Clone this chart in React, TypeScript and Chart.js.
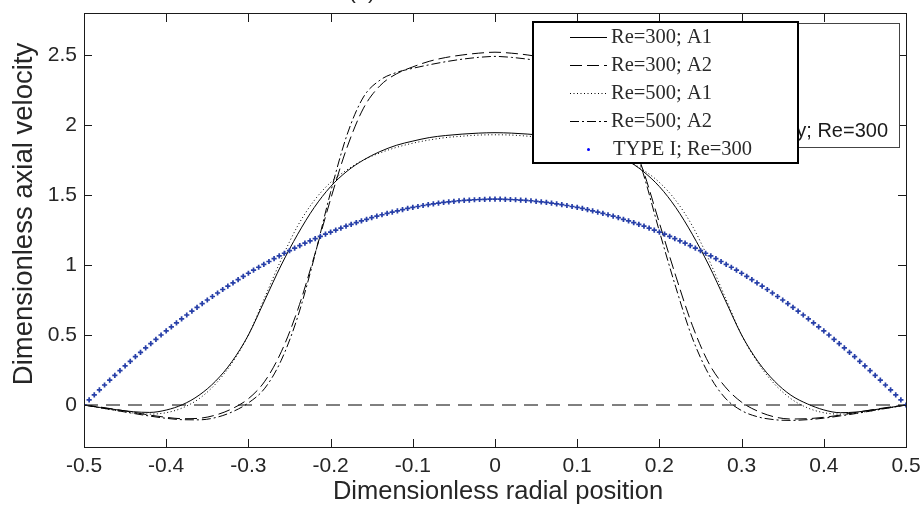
import React, { useEffect, useRef } from 'react';
import { Chart, registerables } from 'chart.js';

Chart.register(...registerables);

// ---------- data ----------
const curveX = [
  -0.5, -0.48, -0.46, -0.44, -0.42, -0.4, -0.38, -0.36, -0.34, -0.32, -0.3, -0.28, -0.26,
  -0.24, -0.22, -0.2, -0.18, -0.16, -0.14, -0.12, -0.1, -0.08, -0.06, -0.04, -0.02, 0,
  0.02, 0.04, 0.06, 0.08, 0.1, 0.12, 0.14, 0.16, 0.18, 0.2, 0.22, 0.24, 0.26, 0.28, 0.3,
  0.32, 0.34, 0.36, 0.38, 0.4, 0.42, 0.44, 0.46, 0.48, 0.5,
];

const re300A1 = [
  0, -0.018, -0.034, -0.048, -0.053, -0.036, 0.003, 0.07, 0.17, 0.31, 0.5, 0.75, 1.0,
  1.22, 1.41, 1.56, 1.67, 1.75, 1.81, 1.855, 1.885, 1.91, 1.925, 1.935, 1.942, 1.945,
  1.942, 1.935, 1.925, 1.91, 1.885, 1.855, 1.81, 1.75, 1.67, 1.56, 1.41, 1.22, 1.0, 0.75,
  0.5, 0.31, 0.17, 0.07, 0.008, -0.035, -0.055, -0.05, -0.035, -0.018, 0,
];

const re300A2 = [
  0, -0.015, -0.033, -0.052, -0.072, -0.088, -0.098, -0.095, -0.072, -0.027, 0.045, 0.17,
  0.38, 0.68, 1.06, 1.47, 1.84, 2.12, 2.28, 2.365, 2.415, 2.455, 2.482, 2.5, 2.513, 2.52,
  2.513, 2.5, 2.48, 2.45, 2.405, 2.33, 2.2, 1.98, 1.68, 1.3, 0.92, 0.57, 0.3, 0.13, 0.02,
  -0.045, -0.085, -0.1, -0.098, -0.088, -0.072, -0.052, -0.033, -0.015, 0,
];

const re500A1 = [
  0, -0.02, -0.04, -0.057, -0.065, -0.055, -0.02, 0.045, 0.15, 0.3, 0.5, 0.77, 1.04,
  1.28, 1.46, 1.59, 1.68, 1.75, 1.8, 1.84, 1.87, 1.893, 1.91, 1.92, 1.928, 1.93,
  1.928, 1.92, 1.91, 1.893, 1.87, 1.84, 1.8, 1.75, 1.68, 1.59, 1.46, 1.28, 1.04, 0.77,
  0.5, 0.3, 0.15, 0.045, -0.02, -0.055, -0.065, -0.057, -0.04, -0.02, 0,
];

const re500A2 = [
  0, -0.02, -0.04, -0.06, -0.079, -0.095, -0.105, -0.106, -0.09, -0.05, 0.015, 0.12,
  0.32, 0.63, 1.05, 1.52, 1.93, 2.2, 2.32, 2.375, 2.405, 2.43, 2.452, 2.47, 2.483, 2.49,
  2.483, 2.47, 2.452, 2.425, 2.395, 2.33, 2.22, 2.0, 1.66, 1.24, 0.84, 0.48, 0.22, 0.05,
  -0.04, -0.085, -0.105, -0.11, -0.105, -0.094, -0.078, -0.06, -0.04, -0.02, 0,
];

const zeroX = [-0.5, 0.5];
const zeroY = [0, 0];

const typeIX = [
  -0.5, -0.49375, -0.4875, -0.48125, -0.475, -0.46875, -0.4625, -0.45625,
  -0.45, -0.44375, -0.4375, -0.43125, -0.425, -0.41875, -0.4125, -0.40625,
  -0.4, -0.39375, -0.3875, -0.38125, -0.375, -0.36875, -0.3625, -0.35625,
  -0.35, -0.34375, -0.3375, -0.33125, -0.325, -0.31875, -0.3125, -0.30625,
  -0.3, -0.29375, -0.2875, -0.28125, -0.275, -0.26875, -0.2625, -0.25625,
  -0.25, -0.24375, -0.2375, -0.23125, -0.225, -0.21875, -0.2125, -0.20625,
  -0.2, -0.19375, -0.1875, -0.18125, -0.175, -0.16875, -0.1625, -0.15625,
  -0.15, -0.14375, -0.1375, -0.13125, -0.125, -0.11875, -0.1125, -0.10625,
  -0.1, -0.09375, -0.0875, -0.08125, -0.075, -0.06875, -0.0625, -0.05625,
  -0.05, -0.04375, -0.0375, -0.03125, -0.025, -0.01875, -0.0125, -0.00625,
  0,
  0.00625, 0.0125, 0.01875, 0.025, 0.03125, 0.0375, 0.04375, 0.05,
  0.05625, 0.0625, 0.06875, 0.075, 0.08125, 0.0875, 0.09375, 0.1,
  0.10625, 0.1125, 0.11875, 0.125, 0.13125, 0.1375, 0.14375, 0.15,
  0.15625, 0.1625, 0.16875, 0.175, 0.18125, 0.1875, 0.19375, 0.2,
  0.20625, 0.2125, 0.21875, 0.225, 0.23125, 0.2375, 0.24375, 0.25,
  0.25625, 0.2625, 0.26875, 0.275, 0.28125, 0.2875, 0.29375, 0.3,
  0.30625, 0.3125, 0.31875, 0.325, 0.33125, 0.3375, 0.34375, 0.35,
  0.35625, 0.3625, 0.36875, 0.375, 0.38125, 0.3875, 0.39375, 0.4,
  0.40625, 0.4125, 0.41875, 0.425, 0.43125, 0.4375, 0.44375, 0.45,
  0.45625, 0.4625, 0.46875, 0.475, 0.48125, 0.4875, 0.49375, 0.5,
];

const typeIY = [
  0, 0.037, 0.073, 0.108, 0.143, 0.178, 0.212, 0.246, 0.279, 0.312,
  0.345, 0.376, 0.408, 0.439, 0.469, 0.5, 0.529, 0.558, 0.587, 0.615,
  0.643, 0.67, 0.697, 0.724, 0.75, 0.775, 0.8, 0.825, 0.849, 0.873,
  0.896, 0.919, 0.941, 0.963, 0.984, 1.005, 1.025, 1.045, 1.065, 1.084,
  1.103, 1.121, 1.138, 1.156, 1.172, 1.189, 1.205, 1.22, 1.235, 1.249,
  1.263, 1.277, 1.29, 1.303, 1.315, 1.326, 1.338, 1.349, 1.359, 1.369,
  1.378, 1.387, 1.396, 1.404, 1.411, 1.418, 1.425, 1.431, 1.437, 1.442,
  1.447, 1.451, 1.455, 1.459, 1.462, 1.464, 1.466, 1.468, 1.469, 1.47,
  1.47,
  1.47, 1.469, 1.468, 1.466, 1.464, 1.462, 1.459, 1.455, 1.451, 1.447,
  1.442, 1.437, 1.431, 1.425, 1.418, 1.411, 1.404, 1.396, 1.387, 1.378,
  1.369, 1.359, 1.349, 1.338, 1.326, 1.315, 1.303, 1.29, 1.277, 1.263,
  1.249, 1.235, 1.22, 1.205, 1.189, 1.172, 1.156, 1.138, 1.121, 1.103,
  1.084, 1.065, 1.045, 1.025, 1.005, 0.984, 0.963, 0.941, 0.919, 0.896,
  0.873, 0.849, 0.825, 0.8, 0.775, 0.75, 0.724, 0.697, 0.67, 0.643,
  0.615, 0.587, 0.558, 0.529, 0.5, 0.469, 0.439, 0.408, 0.376, 0.345,
  0.312, 0.279, 0.246, 0.212, 0.178, 0.143, 0.108, 0.073, 0.037, 0,
];

const xTicks = [-0.5, -0.4, -0.3, -0.2, -0.1, 0, 0.1, 0.2, 0.3, 0.4, 0.5];
const xTickLabels = ['-0.5', '-0.4', '-0.3', '-0.2', '-0.1', '0', '0.1', '0.2', '0.3', '0.4', '0.5'];
const yTicks = [0, 0.5, 1, 1.5, 2, 2.5];
const yTickLabels = ['0', '0.5', '1', '1.5', '2', '2.5'];

const legendLabels = ['Re=300; A1', 'Re=300; A2', 'Re=500; A1', 'Re=500; A2', 'TYPE I; Re=300'];
const backLegendText = 'Analytical velocity; Re=300';
const xTitle = 'Dimensionless radial position';
const yTitle = 'Dimensionless axial velocity';
const panelTitle = '(a)';

const SANS = '"Liberation Sans", Arial, Helvetica, sans-serif';
const SERIF = '"Liberation Serif", "Times New Roman", serif';
const BLUE = 'rgb(38,62,168)';

const toPts = (xs: number[], ys: number[]) => xs.map((x, i) => ({ x, y: ys[i] }));

const decorPlugin = {
  id: 'decor',
  afterDraw(chart: any) {
    const { ctx, chartArea: a, scales } = chart;
    const xs = scales.x;
    const ys = scales.y;
    ctx.save();

    // frame
    ctx.strokeStyle = '#1a1a1a';
    ctx.lineWidth = 1;
    ctx.setLineDash([]);
    ctx.strokeRect(a.left + 0.5, a.top + 0.5, a.right - a.left, a.bottom - a.top);

    // inward ticks on all sides
    ctx.beginPath();
    xTicks.forEach((v) => {
      const px = Math.round(xs.getPixelForValue(v)) + 0.5;
      ctx.moveTo(px, a.bottom);
      ctx.lineTo(px, a.bottom - 8);
      ctx.moveTo(px, a.top);
      ctx.lineTo(px, a.top + 9);
    });
    yTicks.forEach((v) => {
      const py = Math.round(ys.getPixelForValue(v)) + 0.5;
      ctx.moveTo(a.left, py);
      ctx.lineTo(a.left + 8, py);
      ctx.moveTo(a.right, py);
      ctx.lineTo(a.right - 8, py);
    });
    ctx.stroke();

    // axis titles
    ctx.fillStyle = '#262626';
    ctx.textAlign = 'center';
    ctx.textBaseline = 'alphabetic';
    ctx.font = `25.5px ${SANS}`;
    ctx.fillText(xTitle, 498, 499);
    ctx.save();
    ctx.translate(32, 214);
    ctx.rotate(-Math.PI / 2);
    ctx.font = `27.5px ${SANS}`;
    ctx.fillText(yTitle, 0, 0);
    ctx.restore();

    // cut-off panel title
    ctx.font = `22px ${SANS}`;
    ctx.fillText(panelTitle, 362, -2);

    // back legend box
    ctx.fillStyle = '#ffffff';
    ctx.fillRect(560, 23, 339, 124);
    ctx.strokeStyle = '#444';
    ctx.lineWidth = 1;
    ctx.strokeRect(560.5, 23.5, 339, 124);
    ctx.fillStyle = '#1a1a1a';
    ctx.font = `20px ${SANS}`;
    ctx.textAlign = 'right';
    ctx.fillText(backLegendText, 888, 137);

    // front legend box
    ctx.fillStyle = '#ffffff';
    ctx.fillRect(532, 21, 267, 143);
    ctx.strokeStyle = '#000';
    ctx.lineWidth = 2;
    ctx.strokeRect(533, 22, 265, 141);

    const rows = [37, 65, 93, 121, 149];
    const dashes = [[], [12, 5], [1, 2.5], [9, 3, 2, 3]];
    ctx.lineWidth = 1;
    ctx.strokeStyle = '#000';
    dashes.forEach((d, i) => {
      ctx.setLineDash(d);
      ctx.beginPath();
      ctx.moveTo(570, rows[i] + 0.5);
      ctx.lineTo(607, rows[i] + 0.5);
      ctx.stroke();
    });
    ctx.setLineDash([]);
    ctx.fillStyle = 'rgb(0,0,255)';
    ctx.beginPath();
    ctx.arc(588.5, rows[4] + 0.5, 1.5, 0, Math.PI * 2);
    ctx.fill();

    ctx.fillStyle = '#2a2a2a';
    ctx.font = `20.5px ${SERIF}`;
    ctx.textAlign = 'left';
    ctx.textBaseline = 'middle';
    legendLabels.forEach((t, i) => {
      ctx.fillText(t, i === 4 ? 613 : 611, rows[i] + 1);
    });

    ctx.restore();
  },
};

export default function App() {
  const ref = useRef<HTMLCanvasElement>(null);

  useEffect(() => {
    if (!ref.current) return;
    const lineBase = {
      borderColor: '#000',
      borderWidth: 1,
      pointRadius: 0,
      fill: false,
      cubicInterpolationMode: 'monotone' as const,
    };
    const chart = new Chart(ref.current, {
      type: 'line',
      data: {
        datasets: [
          {
            label: legendLabels[4],
            data: toPts(typeIX, typeIY),
            showLine: false,
            pointStyle: 'cross',
            pointRadius: 2.6,
            pointBorderWidth: 1.7,
            borderColor: BLUE,
            backgroundColor: BLUE,
          },
          { ...lineBase, label: legendLabels[0], data: toPts(curveX, re300A1) },
          { ...lineBase, label: legendLabels[1], data: toPts(curveX, re300A2), borderDash: [12, 5] },
          { ...lineBase, label: legendLabels[2], data: toPts(curveX, re500A1), borderDash: [1, 2.5] },
          { ...lineBase, label: legendLabels[3], data: toPts(curveX, re500A2), borderDash: [9, 3, 2, 3] },
          { ...lineBase, label: 'zero', data: toPts(zeroX, zeroY), borderDash: [14, 8] },
        ] as any,
      },
      plugins: [decorPlugin],
      options: {
        animation: false,
        responsive: true,
        maintainAspectRatio: false,
        events: [],
        layout: { padding: { top: 13, right: 17, left: 0, bottom: 0 } },
        plugins: { legend: { display: false }, tooltip: { enabled: false } },
        scales: {
          x: {
            type: 'linear',
            min: -0.5,
            max: 0.5,
            afterBuildTicks: (s: any) => {
              s.ticks = xTicks.map((v) => ({ value: v }));
            },
            afterFit: (s: any) => {
              s.height = 58;
              s.paddingLeft = 0;
              s.paddingRight = 0;
              s.paddingTop = 0;
              s.paddingBottom = 0;
            },
            grid: { display: false, drawTicks: false },
            border: { display: false },
            ticks: {
              autoSkip: false,
              maxRotation: 0,
              padding: 7,
              color: '#262626',
              font: { family: SANS, size: 21 },
              callback: (_v: any, i: number) => xTickLabels[i],
            },
          },
          y: {
            type: 'linear',
            min: -0.3,
            max: 2.8,
            afterBuildTicks: (s: any) => {
              s.ticks = yTicks.map((v) => ({ value: v }));
            },
            afterFit: (s: any) => {
              s.width = 84;
              s.paddingLeft = 0;
              s.paddingRight = 0;
              s.paddingTop = 0;
              s.paddingBottom = 0;
            },
            grid: { display: false, drawTicks: false },
            border: { display: false },
            ticks: {
              autoSkip: false,
              padding: 7,
              color: '#262626',
              font: { family: SANS, size: 21 },
              callback: (_v: any, i: number) => yTickLabels[i],
            },
          },
        },
      } as any,
    });
    return () => chart.destroy();
  }, []);

  return (
    <div style={{ position: 'fixed', left: 0, top: 0, width: 923, height: 505, background: '#fff' }}>
      <canvas ref={ref} />
    </div>
  );
}
